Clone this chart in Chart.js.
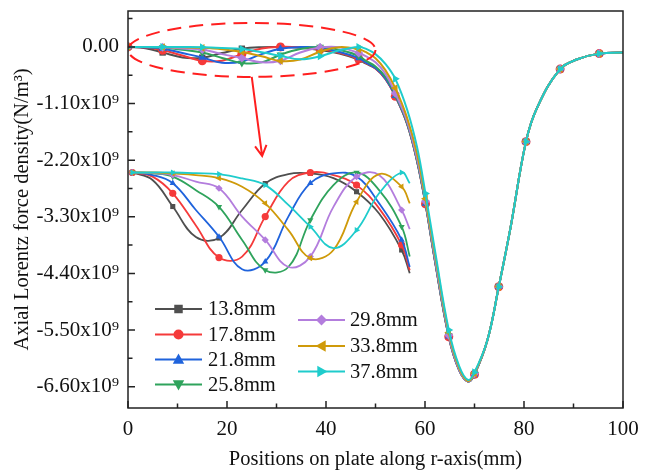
<!DOCTYPE html>
<html>
<head>
<meta charset="utf-8">
<script src="https://cdn.jsdelivr.net/npm/chart.js@4.4.0/dist/chart.umd.min.js"></script>
<style>
    html, body { margin: 0; padding: 0; background: #fff; }
    #wrap { width: 654px; height: 472px; }
</style>
</head>
<body>
<div id="wrap"><canvas id="chart"></canvas></div>
<script>
// positions along r (mm) and force density in units of 10^9 N/m^3
const posX = [0, 3.5, 7, 11, 15, 19, 23, 27, 30.8, 34.8, 38.8, 42.7, 46.6, 48, 50, 52, 54, 56.4, 58.4, 60.1, 62, 64.8, 66.9, 68.7, 70, 72.6, 74.9, 77.3, 80.4, 82.7, 87.3, 90.8, 95.2, 100];
const markX = [0, 7, 15, 23, 30.8, 38.8, 46.6, 54, 60.1, 64.8, 70, 74.9, 80.4, 87.3, 95.2];
const insetMaxX = 48;

const labels = ['13.8mm', '17.8mm', '21.8mm', '25.8mm', '29.8mm', '33.8mm', '37.8mm'];
const s13_8 = [0, -0.024, -0.108, -0.205, -0.208, -0.119, -0.035, -0.005, -0.003, -0.018, -0.061, -0.13, -0.246, -0.32, -0.42, -0.62, -0.95, -1.5, -2.22, -3.05, -4.15, -5.63, -6.28, -6.5, -6.36, -5.7, -4.66, -3.5, -1.84, -1.17, -0.43, -0.24, -0.13, -0.11];
const s17_8 = [0, -0.013, -0.066, -0.168, -0.27, -0.267, -0.14, -0.029, 0, -0.008, -0.04, -0.114, -0.23, -0.31, -0.42, -0.62, -0.96, -1.5, -2.22, -3.05, -4.15, -5.63, -6.28, -6.5, -6.36, -5.7, -4.66, -3.5, -1.84, -1.17, -0.43, -0.24, -0.13, -0.11];
const s21_8 = [0, -0.008, -0.034, -0.119, -0.204, -0.307, -0.283, -0.14, -0.034, -0.003, -0.013, -0.098, -0.214, -0.3, -0.41, -0.61, -0.95, -1.49, -2.21, -3.04, -4.14, -5.62, -6.28, -6.5, -6.36, -5.7, -4.66, -3.5, -1.84, -1.17, -0.43, -0.24, -0.13, -0.11];
const s25_8 = [0, -0.003, -0.013, -0.056, -0.109, -0.214, -0.31, -0.3, -0.151, -0.04, 0, -0.056, -0.172, -0.267, -0.38, -0.58, -0.93, -1.48, -2.2, -3.03, -4.13, -5.61, -6.27, -6.5, -6.36, -5.7, -4.66, -3.5, -1.84, -1.17, -0.43, -0.24, -0.13, -0.11];
const s29_8 = [0, -0.002, -0.008, -0.029, -0.05, -0.14, -0.214, -0.3, -0.267, -0.109, -0.013, -0.008, -0.119, -0.18, -0.3, -0.52, -0.9, -1.45, -2.17, -3.0, -4.1, -5.6, -6.27, -6.5, -6.35, -5.7, -4.66, -3.5, -1.84, -1.17, -0.43, -0.24, -0.13, -0.11];
const s33_8 = [0, 0, -0.003, -0.008, -0.018, -0.045, -0.098, -0.183, -0.272, -0.246, -0.093, -0.005, -0.045, -0.098, -0.22, -0.45, -0.8, -1.38, -2.08, -2.95, -4.02, -5.55, -6.24, -6.49, -6.34, -5.7, -4.66, -3.5, -1.84, -1.17, -0.43, -0.24, -0.13, -0.11];
const s37_8 = [0, 0, 0, -0.002, -0.005, -0.019, -0.04, -0.103, -0.172, -0.24, -0.183, -0.066, 0, -0.034, -0.14, -0.33, -0.62, -1.22, -1.95, -2.85, -3.95, -5.5, -6.2, -6.47, -6.32, -5.7, -4.66, -3.5, -1.84, -1.17, -0.43, -0.24, -0.13, -0.11];
const series = [s13_8, s17_8, s21_8, s25_8, s29_8, s33_8, s37_8];

const xMajor = [0, 20, 40, 60, 80, 100];
const xMinor = [10, 30, 50, 70, 90];
const yMajor = [0, -1.1, -2.2, -3.3, -4.4, -5.5, -6.6];
const yMinor = [0.55, -0.55, -1.65, -2.75, -3.85, -4.95, -6.05];

const colors = ['#4f4f4f', '#f53a3a', '#1f63dc', '#2fa35c', '#b37ddd', '#cf9a0a', '#1fcccc'];
const shapes = ['rect', 'circle', 'triangle', 'triangle', 'rectRot', 'triangle', 'triangle'];
const rotations = [0, 0, 0, 180, 0, -90, 90];

const FONT = "'Liberation Serif', 'Times New Roman', serif";
Chart.defaults.font.family = FONT;
Chart.defaults.font.size = 20.5;
Chart.defaults.color = '#111';

function isMark(x) {
    return markX.some(m => Math.abs(m - x) < 1e-6);
}

let datasets = [];
series.forEach(function(vals, i) {
    datasets.push({
        label: labels[i],
        data: posX.map((x, j) => ({x: x, y: vals[j]})),
        borderColor: colors[i],
        backgroundColor: colors[i],
        borderWidth: 2,
        tension: 0.4,
        pointStyle: shapes[i],
        rotation: rotations[i],
        pointRadius: c => isMark(posX[c.dataIndex]) ? 4.5 : 0,
        pointBorderWidth: 0,
        order: 20 - i,
        xAxisID: 'x',
        yAxisID: 'y'
    });
});
// magnified copy of the near-zero part
series.forEach(function(vals, i) {
    datasets.push({
        label: labels[i] + ' inset',
        data: posX.map((x, j) => ({x: x, y: vals[j]})).filter(p => p.x <= insetMaxX),
        borderColor: colors[i],
        backgroundColor: colors[i],
        borderWidth: 1.8,
        tension: 0.4,
        pointStyle: shapes[i],
        rotation: rotations[i],
        pointRadius: c => isMark(posX[c.dataIndex]) ? 3.6 : 0,
        pointBorderWidth: 0,
        order: 10 - i,
        xAxisID: 'xi',
        yAxisID: 'yi'
    });
});

function drawMarker(ctx, style, rot, x, y, r) {
    ctx.save();
    ctx.translate(x, y);
    ctx.rotate(rot * Math.PI / 180);
    ctx.beginPath();
    if (style === 'rect') {
        ctx.rect(-r * 0.85, -r * 0.85, r * 1.7, r * 1.7);
    } else if (style === 'circle') {
        ctx.arc(0, 0, r, 0, 2 * Math.PI);
    } else if (style === 'rectRot') {
        ctx.moveTo(0, -r * 1.1); ctx.lineTo(r * 1.1, 0); ctx.lineTo(0, r * 1.1); ctx.lineTo(-r * 1.1, 0);
        ctx.closePath();
    } else {
        let h = r * 1.2;
        ctx.moveTo(0, -h); ctx.lineTo(h * 0.95, h * 0.7); ctx.lineTo(-h * 0.95, h * 0.7);
        ctx.closePath();
    }
    ctx.fill();
    ctx.restore();
}

const decor = {
    id: 'decor',
    afterDatasetsDraw(chart) {
        const ctx = chart.ctx;
        const x = chart.scales.x, y = chart.scales.y;
        ctx.save();
        ctx.strokeStyle = '#ff1f1f';
        ctx.lineWidth = 2;
        // dashed ellipse round the zoomed zone
        ctx.setLineDash([14, 8]);
        let cx = x.getPixelForValue(25), cy = y.getPixelForValue(-0.058);
        ctx.beginPath();
        ctx.ellipse(cx, cy, x.getPixelForValue(50) - cx, y.getPixelForValue(-0.582) - cy, 0, 0, 2 * Math.PI);
        ctx.stroke();
        // arrow to the magnified view
        ctx.setLineDash([]);
        let x0 = x.getPixelForValue(25), y0 = y.getPixelForValue(-0.582);
        let x1 = x.getPixelForValue(27.1), y1 = y.getPixelForValue(-2.12);
        ctx.beginPath();
        ctx.moveTo(x0, y0);
        ctx.lineTo(x1, y1);
        let ang = Math.atan2(y1 - y0, x1 - x0);
        ctx.moveTo(x1 - 12 * Math.cos(ang - 0.5), y1 - 12 * Math.sin(ang - 0.5));
        ctx.lineTo(x1, y1);
        ctx.lineTo(x1 - 12 * Math.cos(ang + 0.5), y1 - 12 * Math.sin(ang + 0.5));
        ctx.stroke();
        ctx.restore();
    },
    afterDraw(chart) {
        const ctx = chart.ctx;
        const a = chart.chartArea;
        const x = chart.scales.x, y = chart.scales.y;
        ctx.save();
        ctx.strokeStyle = '#222';
        ctx.lineWidth = 1.5;
        ctx.strokeRect(a.left, a.top, a.right - a.left, a.bottom - a.top);
        ctx.beginPath();
        xMajor.forEach(v => { let p = x.getPixelForValue(v); ctx.moveTo(p, a.bottom); ctx.lineTo(p, a.bottom - 7); });
        xMinor.forEach(v => { let p = x.getPixelForValue(v); ctx.moveTo(p, a.bottom); ctx.lineTo(p, a.bottom - 4.5); });
        yMajor.forEach(v => { let p = y.getPixelForValue(v); ctx.moveTo(a.left, p); ctx.lineTo(a.left + 7, p); });
        yMinor.forEach(v => { let p = y.getPixelForValue(v); ctx.moveTo(a.left, p); ctx.lineTo(a.left + 4.5, p); });
        ctx.stroke();

        // legend in two staggered columns
        const cols = [
            {x0: 155, x1: 202, tx: 208, rows: [309, 334.5, 359.5, 384.5], items: [0, 1, 2, 3]},
            {x0: 298, x1: 345, tx: 350, rows: [320, 346, 371.5], items: [4, 5, 6]}
        ];
        ctx.font = '20.5px ' + FONT;
        ctx.textBaseline = 'middle';
        ctx.textAlign = 'left';
        cols.forEach(col => {
            col.items.forEach((k, r) => {
                let yy = col.rows[r];
                ctx.strokeStyle = colors[k];
                ctx.fillStyle = colors[k];
                ctx.lineWidth = 2;
                ctx.beginPath();
                ctx.moveTo(col.x0, yy);
                ctx.lineTo(col.x1, yy);
                ctx.stroke();
                drawMarker(ctx, shapes[k], rotations[k], (col.x0 + col.x1) / 2, yy, 5);
                ctx.fillStyle = '#111';
                ctx.fillText(labels[k], col.tx, yy + 1);
            });
        });
        ctx.restore();
    }
};

new Chart(document.getElementById('chart'), {
    type: 'line',
    data: {datasets: datasets},
    options: {
        responsive: true,
        maintainAspectRatio: false,
        animation: false,
        devicePixelRatio: 1,
        layout: {padding: {top: 11, right: 31, left: 0, bottom: 0}},
        plugins: {legend: {display: false}, tooltip: {enabled: false}},
        scales: {
            x: {
                type: 'linear',
                min: 0,
                max: 100,
                afterBuildTicks: s => { s.ticks = xMajor.concat(xMinor).sort((p, q) => p - q).map(v => ({value: v})); },
                afterFit: s => { s.height = 64; s.paddingLeft = 0; s.paddingRight = 0; },
                grid: {display: false},
                border: {display: false},
                ticks: {
                    autoSkip: false,
                    maxRotation: 0,
                    padding: 1,
                    font: {size: 21},
                    callback: v => xMajor.includes(v) ? String(v) : ''
                },
                title: {display: true, text: 'Positions on plate along r-axis(mm)', padding: {top: 0, bottom: 0}}
            },
            y: {
                type: 'linear',
                min: -7.015,
                max: 0.698,
                afterBuildTicks: s => { s.ticks = yMajor.concat(yMinor).sort((p, q) => p - q).map(v => ({value: v})); },
                afterFit: s => { s.width = 128; s.paddingTop = 0; s.paddingBottom = 0; },
                grid: {display: false},
                border: {display: false},
                ticks: {
                    autoSkip: false,
                    padding: 1,
                    font: {size: 21},
                    callback: function(v) {
                        if (!yMajor.some(m => Math.abs(m - v) < 1e-6)) return '';
                        if (Math.abs(v) < 1e-6) return '0.00';
                        return v.toFixed(2) + 'x10\u2079';
                    }
                },
                title: {display: true, text: 'Axial Lorentz force density(N/m\u00b3)', padding: {top: 10, bottom: 0}}
            },
            xi: {type: 'linear', display: false, min: -0.744, max: 84.9},
            yi: {type: 'linear', display: false, min: -0.7476, max: 0.5127}
        }
    },
    plugins: [decor]
});
</script>
</body>
</html>
